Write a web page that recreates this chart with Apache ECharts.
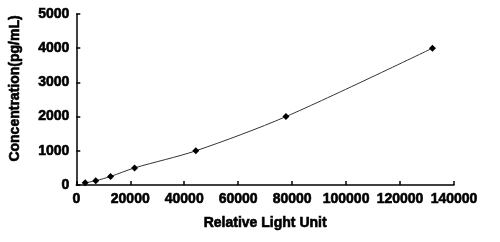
<!DOCTYPE html>
<html><head><meta charset="utf-8">
<script src="https://cdn.jsdelivr.net/npm/echarts@6/dist/echarts.min.js"></script>
<style>html,body{margin:0;padding:0;background:#fff}#c{width:500px;height:242px}</style>
</head><body><div id="c"></div>
<script>
var rlu = [3300, 7200, 12700, 21600, 44300, 77700, 132000];
var conc = [62.5, 125, 250, 500, 1000, 2000, 4000];
var xTicks = [0, 20000, 40000, 60000, 80000, 100000, 120000, 140000];
var yTicks = [0, 1000, 2000, 3000, 4000, 5000];
var data = rlu.map(function(v, i){ return [v, conc[i]]; });
var font = 'Liberation Sans, Arial, sans-serif';
var heavy = {fontFamily: font, fontWeight: 'bold', color: '#000', textBorderColor: '#000', textBorderWidth: 0.6};
function ts(size, extra){ var o = Object.assign({fontSize: size}, heavy); return Object.assign(o, extra || {}); }
var chart = echarts.init(document.getElementById('c'), null, {renderer: 'canvas'});
chart.setOption({
  animation: false,
  grid: {left: 71, right: 46, top: 14, bottom: 57},
  xAxis: {
    type: 'value', min: xTicks[0], max: xTicks[xTicks.length-1], interval: xTicks[1]-xTicks[0],
    name: 'Relative Light Unit', nameLocation: 'middle', nameGap: 31,
    nameTextStyle: ts(14),
    axisLine: {lineStyle: {color: '#000', width: 1.5}},
    axisTick: {inside: true, length: 4, lineStyle: {color: '#000', width: 1.5}},
    axisLabel: Object.assign(ts(14, {margin: 7}), {formatter: function(v){ return String(v); }}),
    splitLine: {show: false}
  },
  yAxis: {
    type: 'value', min: yTicks[0], max: yTicks[yTicks.length-1], interval: yTicks[1]-yTicks[0],
    name: 'Concentration(pg/mL)', nameLocation: 'middle', nameGap: 54,
    nameTextStyle: ts(14, {padding: [0, 0, 0, 22]}),
    axisLine: {show: true, lineStyle: {color: '#000', width: 1.5}},
    axisTick: {show: true, inside: true, length: 4, lineStyle: {color: '#000', width: 1.5}},
    axisLabel: Object.assign(ts(14, {margin: 7}), {formatter: function(v){ return String(v); }}),
    splitLine: {show: false}
  },
  series: [{
    type: 'line', data: data, smooth: 0.3,
    symbol: 'diamond', symbolSize: 7,
    itemStyle: {color: '#000'},
    lineStyle: {color: '#333', width: 1}
  }]
});
</script></body></html>
